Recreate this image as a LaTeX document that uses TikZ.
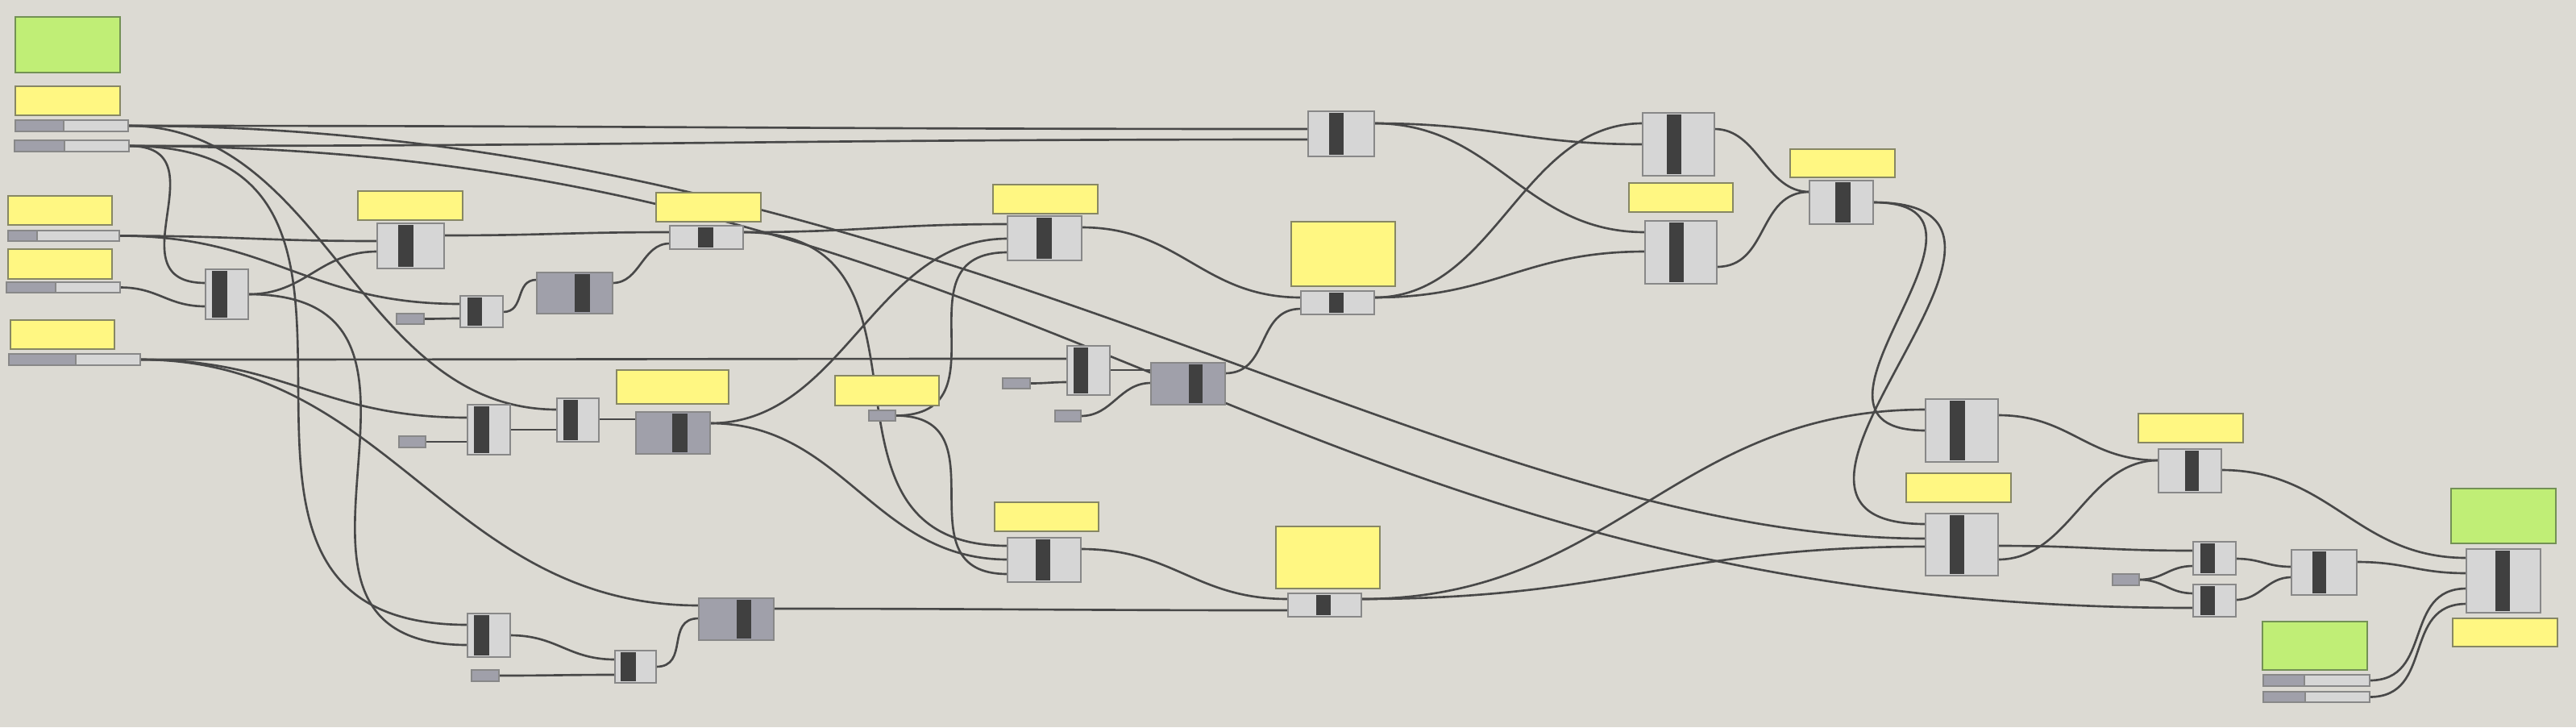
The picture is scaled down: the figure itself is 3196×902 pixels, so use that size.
\documentclass[tikz,border=0pt]{standalone}
\usepackage{tikz}
\usetikzlibrary{calc}

\definecolor{canvas}{RGB}{220,218,211}
\definecolor{wirecol}{RGB}{72,72,72}
\definecolor{compfill}{RGB}{214,214,214}
\definecolor{compedge}{RGB}{136,136,136}
\definecolor{barfill}{RGB}{64,64,64}
\definecolor{paramfill}{RGB}{160,160,170}
\definecolor{notefill}{RGB}{255,247,130}
\definecolor{noteedge}{RGB}{135,135,100}
\definecolor{groupfill}{RGB}{192,238,118}
\definecolor{groupedge}{RGB}{115,145,85}

\pgfdeclarelayer{bg}
\pgfdeclarelayer{wires}
\pgfsetlayers{bg,wires,main}

\begin{document}
\begin{tikzpicture}[x=0.01cm,y=-0.01cm,
    wire/.style={draw=wirecol,line width=0.75pt},
    comp/.style={draw=compedge,fill=compfill,line width=0.5pt,inner sep=0pt,outer sep=0pt},
    dcomp/.style={comp,fill=paramfill},
    param/.style={comp,fill=paramfill},
    bar/.style={fill=barfill,draw=black!75,line width=0.3pt},
    note/.style={draw=noteedge,fill=notefill,line width=0.5pt,inner sep=0pt,outer sep=0pt},
    group/.style={note,draw=groupedge,fill=groupfill}]

            \begin{pgfonlayer}{bg}
                \fill[canvas] (0,0) rectangle (3196,902);
            \end{pgfonlayer}
            \useasboundingbox (0,0) rectangle (3196,902);

            % panels
            \foreach \n/\xa/\ya/\xb/\yb in {n1/19/107/149/143, n2/10/243/139/279, n3/10/309/139/346,
                n4/13/397/142/433, n5/444/237/574/273, n6/765/459/904/501, n7/814/239/944/275,
                n8/1232/229/1362/265, n9/1036/466/1165/503, n10/1602/275/1731/355,
                n11/2021/227/2150/263, n12/2221/185/2351/220, n13/1234/623/1363/659,
                n14/1583/653/1712/730, n15/2365/587/2495/623, n16/2653/513/2783/549,
                n17/3043/767/3173/802}{
                \node[note, minimum width={(\xb-\xa)*0.01cm}, minimum height={(\yb-\ya)*0.01cm}]
                    (\n) at ({(\xa+\xb)/2},{(\ya+\yb)/2}) {};
            }
            \foreach \n/\xa/\ya/\xb/\yb in {g1/19/21/149/90, g2/3041/606/3171/674, g3/2807/771/2937/831}{
                \node[group, minimum width={(\xb-\xa)*0.01cm}, minimum height={(\yb-\ya)*0.01cm}]
                    (\n) at ({(\xa+\xb)/2},{(\ya+\yb)/2}) {};
            }

            % sliders
            \foreach \n/\xa/\ya/\xb/\yb/\sp in {s1/19/149/159/163/79, s2/18/174/160/188/80,
                s3/10/286/148/299/46, s4/8/350/149/363/69, s5/11/439/174/453/94,
                s6/2808/837/2940/851/2859, s7/2808/858/2940/871/2860}{
                \node[comp, minimum width={(\xb-\xa)*0.01cm}, minimum height={(\yb-\ya)*0.01cm}]
                    (\n) at ({(\xa+\xb)/2},{(\ya+\yb)/2}) {};
                \filldraw[param] (\xa,\ya) rectangle (\sp,\yb);
            }

            % small parameters
            \foreach \n/\xa/\ya/\xb/\yb in {p1/492/389/526/402, p2/495/541/528/555, p3/585/831/619/845,
                p4/1244/469/1278/482, p5/1309/509/1341/523, m1/1078/509/1111/522, p6/2621/712/2654/726}{
                \node[param, minimum width={(\xb-\xa)*0.01cm}, minimum height={(\yb-\ya)*0.01cm}]
                    (\n) at ({(\xa+\xb)/2},{(\ya+\yb)/2}) {};
            }

            % components
            \foreach \n/\xa/\ya/\xb/\yb/\ba/\bb in {A/255/334/308/396/264/281, B/468/277/551/333/495/512,
                C/571/367/624/406/581/597, E/580/502/633/564/589/606, F/691/494/743/548/700/716,
                H/580/761/633/815/589/606, I/763/807/814/847/771/788, K/831/280/922/309/867/884,
                L/1250/268/1342/323/1287/1304, N/1324/429/1377/490/1333/1349,
                Q/1623/138/1705/194/1650/1666, U/1614/361/1705/390/1650/1666,
                R/2038/140/2127/218/2069/2085, T/2041/274/2130/352/2072/2088,
                S/2245/224/2324/278/2278/2295, U3/1250/667/1341/722/1286/1302,
                U2/1598/736/1689/765/1634/1650, V/2389/495/2479/573/2420/2437,
                X/2389/637/2479/714/2420/2436, W/2678/557/2756/611/2711/2727,
                Y1/2721/672/2774/713/2730/2747, Y2/2721/725/2774/765/2730/2747,
                Z/2843/682/2924/738/2869/2885, FF/3060/681/3152/760/3096/3113}{
                \node[comp, minimum width={(\xb-\xa)*0.01cm}, minimum height={(\yb-\ya)*0.01cm}]
                    (\n) at ({(\xa+\xb)/2},{(\ya+\yb)/2}) {};
                \filldraw[bar] (\ba,\ya+3) rectangle (\bb,\yb-3);
            }
            \foreach \n/\xa/\ya/\xb/\yb/\ba/\bb in {D/666/338/760/389/714/731, G/789/511/881/563/835/852,
                J/867/742/960/794/915/931, O/1428/450/1520/502/1476/1491}{
                \node[dcomp, minimum width={(\xb-\xa)*0.01cm}, minimum height={(\yb-\ya)*0.01cm}]
                    (\n) at ({(\xa+\xb)/2},{(\ya+\yb)/2}) {};
                \filldraw[bar] (\ba,\ya+3) rectangle (\bb,\yb-3);
            }

            % ports
            \foreach \n/\px/\py in {A-i1/255/351, A-i2/255/380, A-o/308/365,
                B-i1/468/299, B-i2/468/312, B-o/551/292,
                C-i1/571/377, C-i2/571/395, C-o/624/387,
                D-i/666/347, D-o/760/351,
                E-i1/580/518, E-i2/580/548, E-o/633/533,
                F-i1/691/508, F-i2/691/533, F-o/743/520,
                G-i/789/520, G-o/881/525,
                H-i1/580/775, H-i2/580/800, H-o/633/788,
                I-i1/763/818, I-i2/763/837, I-o/814/827,
                J-i1/867/751, J-i2/867/767, J-o/960/755,
                K-i1/831/288, K-i2/831/302, K-o/922/288,
                L-i1/1250/278, L-i2/1250/296, L-i3/1250/313, L-o/1342/282,
                N-i1/1324/445, N-i2/1324/474, N-o/1377/459,
                O-i1/1428/459, O-i2/1428/475, O-o/1520/463,
                Q-i1/1623/160, Q-i2/1623/173, Q-o/1705/153,
                U-i1/1614/369, U-i2/1614/383, U-o/1705/369,
                R-i1/2038/153, R-i2/2038/179, R-o/2127/160,
                T-i1/2041/288, T-i2/2041/312, T-o/2130/331,
                S-i/2245/238, S-o/2324/251,
                U3-i1/1250/677, U3-i2/1250/694, U3-i3/1250/712, U3-o/1341/681,
                U2-i1/1598/743, U2-i2/1598/757, U2-o/1689/743,
                V-i1/2389/508, V-i2/2389/534, V-o/2479/515,
                X-i1/2389/650, X-i2/2389/668, X-i3/2389/678, X-o1/2479/677, X-o2/2479/694,
                W-i/2678/571, W-o/2756/583,
                Y1-i1/2721/683, Y1-i2/2721/702, Y1-o/2774/693,
                Y2-i1/2721/736, Y2-i2/2721/754, Y2-o/2774/744,
                Z-i1/2843/703, Z-i2/2843/716, Z-o/2924/697,
                FF-i1/3060/692, FF-i2/3060/711, FF-i3/3060/730, FF-i4/3060/749}{
                \coordinate (\n) at (\px,\py);
            }

            % wires
            \begin{pgfonlayer}{wires}
            \foreach \a/\b in {s1.east/Q-i1, s2.east/Q-i2, s1.east/F-i1, s2.east/Y2-i2,
                s2.east/A-i1, s2.east/H-i1, s3.east/B-i1, s3.east/C-i1, s4.east/A-i2,
                s5.east/N-i1, s5.east/E-i1, s5.east/J-i1, A-o/B-i2, A-o/H-i2,
                p1.east/C-i2, C-o/D-i, D-o/K-i2, B-o/K-i1, K-o/L-i1, K-o/U3-i1,
                p2.east/E-i2, E-o/F-i2, F-o/G-i, G-o/L-i2, G-o/U3-i2,
                m1.east/L-i3, m1.east/U3-i3, H-o/I-i1, p3.east/I-i2, I-o/J-i2,
                J-o/U2-i2, U3-o/U2-i1, p4.east/N-i2, N-o/O-i1, p5.east/O-i2,
                L-o/U-i1, O-o/U-i2, U-o/R-i1, U-o/T-i2, Q-o/R-i2, Q-o/T-i1,
                R-o/S-i, T-o/S-i, S-o/V-i2, S-o/X-i1, U2-o/V-i1, U2-o/X-i3,
                V-o/W-i, X-o2/W-i, X-o1/Y1-i1, p6.east/Y1-i2, p6.east/Y2-i1,
                Y1-o/Z-i1, Y2-o/Z-i2, W-o/FF-i1, Z-o/FF-i2, s6.east/FF-i3, s7.east/FF-i4}{
                \draw[wire] let \p1=(\a), \p2=(\b),
                    \n1={max(0.7*abs(\y2-\y1),0.45*abs(\x2-\x1),3)} in
                    (\a) .. controls +(\n1,0pt) and +(-\n1,0pt) .. (\b);
            }
            \draw[wire] (s1.east) .. controls +(1000,0) and +(-600,0) .. (X-i2);
            \end{pgfonlayer}
        \end{tikzpicture}
\end{document}
